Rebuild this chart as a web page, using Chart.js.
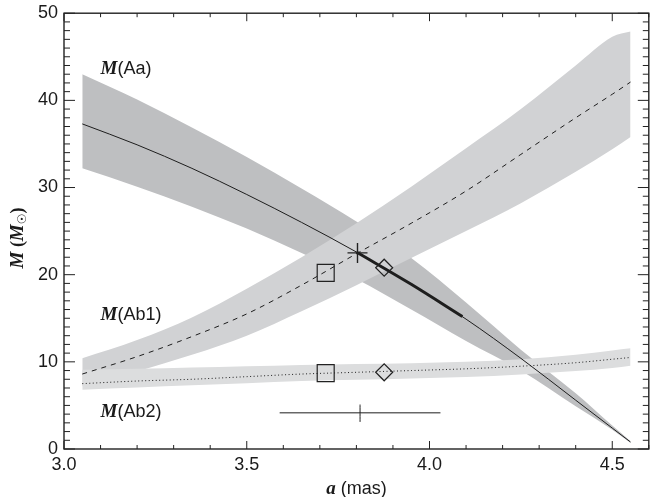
<!DOCTYPE html>
<html>
<head>
<meta charset="utf-8">
<script src="https://cdn.jsdelivr.net/npm/chart.js@4.4.1/dist/chart.umd.min.js"></script>
<style>
html, body { margin: 0; padding: 0; overflow: hidden; background: #fff; }
#wrap { width: 662px; height: 497px; }
</style>
</head>
<body>
<div id="wrap"><canvas id="chart" width="662" height="497"></canvas></div>
<script>
// semi-major axis grid (mas) shared by all three mass curves
var aGrid = [3.05, 3.2, 3.35, 3.5, 3.65, 3.8, 3.95, 4.1, 4.25, 4.4, 4.5, 4.55];

// M(Aa): centre line and band edges
var aaMid  = [37.3, 34.9, 32.2, 29.2, 26.0, 22.6, 18.9, 14.9, 10.4, 5.6, 2.4, 0.8];
var aaHigh = [43.0, 40.1, 36.9, 33.5, 29.9, 26.1, 21.9, 16.8, 11.4, 6.4, 2.7, 0.9];
var aaLow  = [32.2, 30.1, 27.8, 25.3, 22.5, 19.5, 16.0, 12.4, 9.0, 4.9, 2.2, 0.7];

// M(Ab1)
var ab1Mid  = [8.6, 10.6, 12.9, 15.5, 18.8, 22.4, 25.9, 29.6, 33.8, 38.0, 40.7, 42.1];
var ab1High = [10.4, 12.5, 15.1, 18.4, 22.0, 25.9, 30.1, 34.5, 39.0, 44.0, 47.3, 47.9];
var ab1Low  = [7.2, 8.9, 10.8, 13.0, 15.8, 18.8, 21.9, 25.0, 28.2, 31.8, 34.4, 35.8];

// M(Ab2)
var ab2Mid  = [7.5, 7.8, 8.0, 8.3, 8.6, 8.8, 9.0, 9.2, 9.5, 9.9, 10.3, 10.5];
var ab2High = [9.1, 9.2, 9.35, 9.5, 9.65, 9.75, 9.85, 10.0, 10.3, 10.8, 11.3, 11.55];
var ab2Low  = [6.8, 7.05, 7.3, 7.55, 7.8, 7.95, 8.1, 8.25, 8.55, 8.95, 9.3, 9.55];

// highlighted part of M(Aa)
var thickX = [3.80, 3.95, 4.09];
var thickY = [22.6, 18.9, 15.2];

// markers
var squareX = [3.716, 3.716];
var squareY = [20.2, 8.7];
var diamondX = [3.876, 3.876];
var diamondY = [20.8, 8.8];
var crossX = [3.803];
var crossY = [22.5];

// error bar on a
var errX = [3.59, 4.03];
var errLevel = 4.15;
var errCenter = 3.81;
var errTick = [3.1, 5.1];

// axes
var xTicks = [3.0, 3.5, 4.0, 4.5];
var yTicks = [0, 10, 20, 30, 40, 50];
var seriesNames = ['(Aa)', '(Ab1)', '(Ab2)'];

function pts(xs, ys) {
    return xs.map(function (x, i) { return { x: x, y: ys[i] }; });
}

var SERIF = '"Liberation Serif", "DejaVu Serif", serif';
var SANS = '"Liberation Sans", Arial, sans-serif';

function drawParts(ctx, parts, x, y, align) {
    var total = 0;
    parts.forEach(function (p) { ctx.font = p.f; total += ctx.measureText(p.t).width; });
    var cx = align === 'center' ? x - total / 2 : x;
    parts.forEach(function (p) {
        ctx.font = p.f;
        ctx.fillText(p.t, cx, y + (p.dy || 0));
        cx += ctx.measureText(p.t).width;
    });
}

var framePlugin = {
    id: 'frame',
    afterDatasetsDraw: function (chart) {
        var ctx = chart.ctx, a = chart.chartArea;
        var xs = chart.scales.x, ys = chart.scales.y;
        ctx.save();
        ctx.strokeStyle = '#222';
        ctx.lineWidth = 1.4;
        ctx.strokeRect(a.left, a.top, a.right - a.left, a.bottom - a.top);
        ctx.lineWidth = 1;
        ctx.beginPath();
        for (var i = 0; i <= 16; i++) {
            var px = xs.getPixelForValue(xs.min + i * 0.1);
            var len = i % 5 === 0 ? 8 : 4;
            ctx.moveTo(px, a.bottom); ctx.lineTo(px, a.bottom - len);
            ctx.moveTo(px, a.top); ctx.lineTo(px, a.top + len);
        }
        for (var j = 0; j <= 50; j++) {
            var py = ys.getPixelForValue(j);
            var ln = j % 10 === 0 ? 11 : 6;
            ctx.moveTo(a.left, py); ctx.lineTo(a.left + ln, py);
            ctx.moveTo(a.right, py); ctx.lineTo(a.right - ln, py);
        }
        ctx.stroke();

        // series labels
        ctx.fillStyle = '#1a1a1a';
        ctx.textBaseline = 'alphabetic';
        var lx = xs.getPixelForValue(3.1);
        var ly = [43.0, 14.8, 3.7];
        seriesNames.forEach(function (n, k) {
            drawParts(ctx, [
                { t: 'M', f: 'bold italic 19px ' + SERIF },
                { t: n, f: '18px ' + SANS }
            ], lx, ys.getPixelForValue(ly[k]), 'left');
        });

        // x title
        drawParts(ctx, [
            { t: 'a', f: 'bold italic 19px ' + SERIF },
            { t: ' (mas)', f: '18px ' + SANS }
        ], (a.left + a.right) / 2, 494, 'center');

        // y title
        ctx.translate(23, 238);
        ctx.rotate(-Math.PI / 2);
        drawParts(ctx, [
            { t: 'M', f: 'bold italic 19px ' + SERIF },
            { t: ' (', f: 'bold 18px ' + SERIF },
            { t: 'M', f: 'bold italic 19px ' + SERIF },
            { t: '\u2609', f: 'bold 12px "DejaVu Sans", sans-serif', dy: 3 },
            { t: ')', f: 'bold 18px ' + SERIF }
        ], 0, 0, 'center');
        ctx.restore();
    }
};

function band(data, color, order) {
    return {
        data: data, borderWidth: 0, pointRadius: 0,
        backgroundColor: color, fill: color ? '-1' : false,
        cubicInterpolationMode: 'monotone', order: order
    };
}
function line(data, width, dash, order) {
    return {
        data: data, borderColor: '#1e1e1e', borderWidth: width, borderDash: dash,
        pointRadius: 0, fill: false, cubicInterpolationMode: 'monotone', order: order
    };
}
function marker(data, style, radius, width) {
    return {
        data: data, showLine: false, pointStyle: style, pointRadius: radius,
        pointBorderColor: '#222', pointBackgroundColor: 'rgba(0,0,0,0)',
        pointBorderWidth: width, fill: false, order: 0
    };
}

new Chart(document.getElementById('chart'), {
    type: 'line',
    data: {
        datasets: [
            band(pts(aGrid, aaLow), null, 30),
            band(pts(aGrid, aaHigh), '#bebfc1', 30),
            band(pts(aGrid, ab1Low), null, 20),
            band(pts(aGrid, ab1High), '#d1d2d4', 20),
            band(pts(aGrid, ab2Low), null, 10),
            band(pts(aGrid, ab2High), '#dcddde', 10),
            line(pts(aGrid, aaMid), 1, [], 5),
            line(pts(aGrid, ab1Mid), 1, [5, 5], 5),
            line(pts(aGrid, ab2Mid), 1, [1, 2.5], 5),
            line(pts(thickX, thickY), 3, [], 4),
            line(pts(errX, [errLevel, errLevel]), 1, [], 4),
            line(pts([errCenter, errCenter], errTick), 1, [], 4),
            marker(pts(squareX, squareY), 'rect', 12, 1.2),
            marker(pts(diamondX, diamondY), 'rectRot', 8.5, 1.2),
            marker(pts(crossX, crossY), 'cross', 10, 1.4)
        ]
    },
    options: {
        responsive: false,
        animation: false,
        events: [],
        layout: { padding: { left: 6, top: 8, right: 2.5, bottom: 0 } },
        plugins: {
            legend: { display: false },
            tooltip: { enabled: false },
            filler: { drawTime: 'beforeDatasetsDraw' }
        },
        scales: {
            x: {
                type: 'linear', min: 3.0, max: 4.6,
                grid: { display: false, drawTicks: false },
                border: { display: false },
                afterBuildTicks: function (s) { s.ticks = xTicks.map(function (v) { return { value: v }; }); },
                afterFit: function (s) { s.height = 48; },
                ticks: {
                    padding: 9, color: '#1a1a1a', maxRotation: 0,
                    font: { family: SANS, size: 18, lineHeight: 0.8 },
                    callback: function (v) { return v.toFixed(1); }
                }
            },
            y: {
                type: 'linear', min: 0, max: 50,
                grid: { display: false, drawTicks: true, tickLength: 6 },
                border: { display: false },
                afterBuildTicks: function (s) { s.ticks = yTicks.map(function (v) { return { value: v }; }); },
                afterFit: function (s) { s.width = 58; },
                ticks: {
                    padding: 0, color: '#1a1a1a',
                    font: { family: SANS, size: 18, lineHeight: 0.8 },
                    callback: function (v) { return String(v); }
                }
            }
        }
    },
    plugins: [framePlugin]
});
</script>
</body>
</html>
